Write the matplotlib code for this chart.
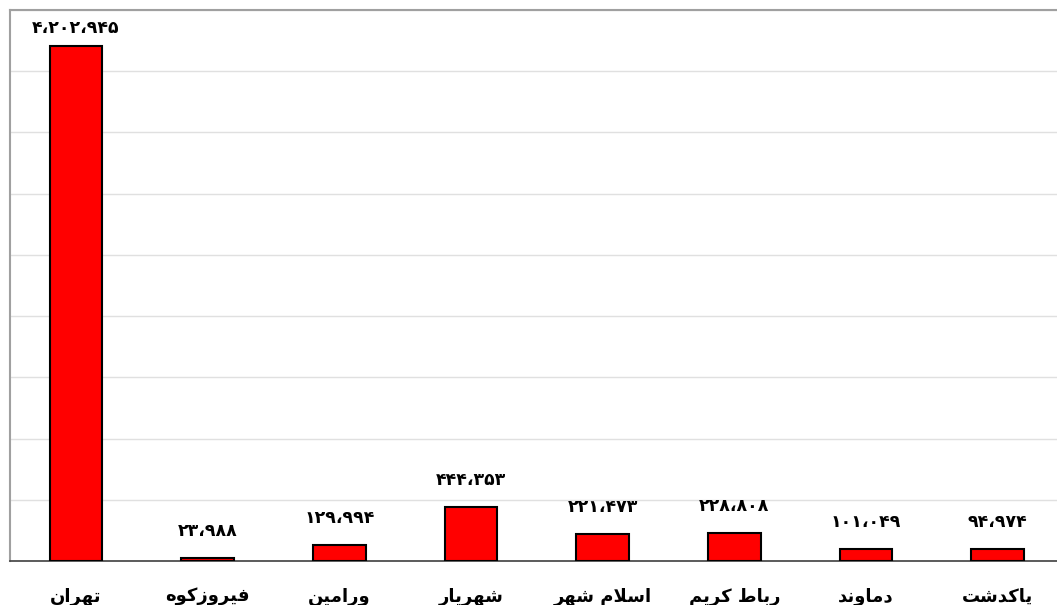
import matplotlib
matplotlib.use("Agg")
import matplotlib.pyplot as plt
import numpy as np

# data
cities = ["تهران", "فیروزکوه", "ورامین", "شهریار", "اسلام شهر", "رباط کریم", "دماوند", "پاکدشت"]
values = [4202945, 23988, 129994, 444353, 221473, 228808, 101049, 94974]

# Arabic presentation forms: (isolated, final, initial, medial); 2-tuples join to the right only
FORMS = {
    "ا": ("\uFE8D", "\uFE8E"),
    "ب": ("\uFE8F", "\uFE90", "\uFE91", "\uFE92"),
    "پ": ("\uFB56", "\uFB57", "\uFB58", "\uFB59"),
    "ت": ("\uFE95", "\uFE96", "\uFE97", "\uFE98"),
    "د": ("\uFEA9", "\uFEAA"),
    "ر": ("\uFEAD", "\uFEAE"),
    "ز": ("\uFEAF", "\uFEB0"),
    "س": ("\uFEB1", "\uFEB2", "\uFEB3", "\uFEB4"),
    "ش": ("\uFEB5", "\uFEB6", "\uFEB7", "\uFEB8"),
    "ط": ("\uFEC1", "\uFEC2", "\uFEC3", "\uFEC4"),
    "ف": ("\uFED1", "\uFED2", "\uFED3", "\uFED4"),
    "ک": ("\uFB8E", "\uFB8F", "\uFB90", "\uFB91"),
    "ل": ("\uFEDD", "\uFEDE", "\uFEDF", "\uFEE0"),
    "م": ("\uFEE1", "\uFEE2", "\uFEE3", "\uFEE4"),
    "ن": ("\uFEE5", "\uFEE6", "\uFEE7", "\uFEE8"),
    "ه": ("\uFEE9", "\uFEEA", "\uFEEB", "\uFEEC"),
    "و": ("\uFEED", "\uFEEE"),
    "ی": ("\uFBFC", "\uFBFD", "\uFBFE", "\uFBFF"),
}


def shape(text):
    # minimal Persian shaping, matplotlib has no complex text layout
    chars = list(text)
    out = []
    i = 0
    while i < len(chars):
        ch = chars[i]
        prev = chars[i - 1] if i > 0 else None
        prev_joins = prev in FORMS and len(FORMS[prev]) == 4
        if ch == "ل" and i + 1 < len(chars) and chars[i + 1] == "ا":
            out.append("\uFEFC" if prev_joins else "\uFEFB")
            i += 2
            continue
        if ch not in FORMS:
            out.append(ch)
            i += 1
            continue
        nxt = chars[i + 1] if i + 1 < len(chars) else None
        next_joins = nxt in FORMS
        f = FORMS[ch]
        if len(f) == 2:
            out.append(f[1] if prev_joins else f[0])
        elif prev_joins and next_joins:
            out.append(f[3])
        elif prev_joins:
            out.append(f[1])
        elif next_joins:
            out.append(f[2])
        else:
            out.append(f[0])
        i += 1
    return "".join(reversed(out))


def fa_num(v):
    s = f"{v:,}".replace(",", "\u060C")
    return s.translate(str.maketrans("0123456789", "۰۱۲۳۴۵۶۷۸۹"))


plt.rcParams["font.family"] = ["DejaVu Sans"]

fig = plt.figure(figsize=(10.57, 6.05), dpi=100)
ax = fig.add_axes([10 / 1057, 44 / 605, 1047 / 1057, 551 / 605])

ymax = 4500000
x = np.arange(len(cities))
ax.bar(x, values, width=0.4, color="#ff0000", edgecolor="black", linewidth=1.5, zorder=3)

for xi, v in zip(x, values):
    # tall bar label gets squeezed under the top edge
    off = 7 if v > 0.9 * ymax else 13
    ax.annotate(fa_num(v), (xi, v), xytext=(0, off), textcoords="offset points",
                ha="center", va="bottom", fontsize=12.5, fontweight="bold")

ax.set_xlim(-0.5, 7.45)
ax.set_ylim(0, ymax)
ax.set_yticks(np.arange(0, ymax + 1, 500000))
ax.set_yticklabels([])
ax.tick_params(axis="y", length=0)
ax.yaxis.grid(True, color="#e0e0e0", linewidth=1, zorder=0)

ax.set_xticks(x)
ax.set_xticklabels([shape(c) for c in cities], fontsize=13, fontweight="bold")
ax.tick_params(axis="x", length=0, pad=19)

ax.spines["right"].set_visible(False)
ax.spines["top"].set_color("#a0a0a0")
ax.spines["left"].set_color("#a0a0a0")
ax.spines["top"].set_linewidth(1.5)
ax.spines["left"].set_linewidth(1.5)
ax.spines["bottom"].set_color("#404040")
ax.spines["bottom"].set_linewidth(1.2)

fig.savefig("out.png", dpi=100)
